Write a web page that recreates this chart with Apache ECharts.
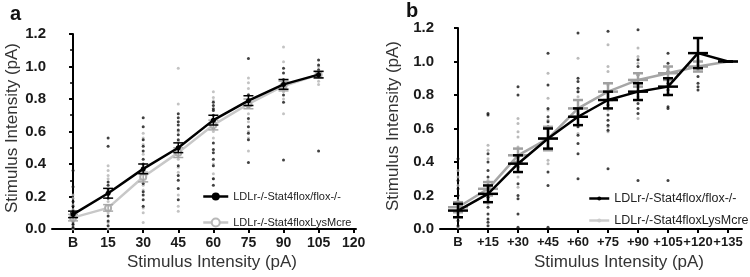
<!DOCTYPE html>
<html>
<head>
<meta charset="utf-8">
<script src="https://cdn.jsdelivr.net/npm/echarts@6/dist/echarts.min.js"></script>
<style>
  html, body { margin: 0; padding: 0; background: #fff; }
  #chart { width: 750px; height: 277px; }
</style>
</head>
<body>
<div id="chart"></div>
<script>
// tick positions / labels (B = baseline)
const ticksA = [0, 15, 30, 45, 60, 75, 90, 105, 120];
const ticksB = [0, 15, 30, 45, 60, 75, 90, 105, 120, 135];
const catsA = [0, 15, 30, 45, 60, 75, 90, 105];
const catsB = [0, 15, 30, 45, 60, 75, 90, 105, 120, 135];
const nameKO = 'LDLr-/-Stat4flox/flox-/-';
const nameCre = 'LDLr-/-Stat4floxLysMcre';

// panel a: means and SEM
const meanA1 = [0.09, 0.22, 0.37, 0.50, 0.67, 0.79, 0.89, 0.95];
const semA1 = [0.02, 0.03, 0.03, 0.03, 0.03, 0.03, 0.03, 0.02];
const meanA2 = [0.07, 0.13, 0.32, 0.47, 0.64, 0.77, 0.88, 0.95];
const semA2 = [0.02, 0.02, 0.03, 0.03, 0.03, 0.03, 0.03, 0.02];

// panel a: individual points per category
const dotsA1 = [
  [0.36, 0.26, 0.17, 0.14, 0.11, 0.08, 0.05, 0.03, 0.01],
  [0.56, 0.51, 0.29, 0.27, 0.24, 0.19, 0.14, 0.08, 0.05, 0.02],
  [0.685, 0.63, 0.55, 0.51, 0.48, 0.43, 0.40, 0.35, 0.28, 0.23, 0.21, 0.18, 0.14],
  [0.71, 0.685, 0.66, 0.64, 0.61, 0.58, 0.55, 0.49, 0.39, 0.33, 0.30, 0.25, 0.18],
  [0.78, 0.76, 0.74, 0.73, 0.70, 0.66, 0.62, 0.53, 0.49, 0.47, 0.43, 0.39, 0.31, 0.27],
  [1.05, 0.825, 0.78, 0.75, 0.68, 0.63, 0.59, 0.55, 0.41],
  [0.99, 0.96, 0.92, 0.86, 0.825, 0.78, 0.425],
  [1.04, 1.01, 0.98, 0.96, 0.48]
];
const dotsA2 = [
  [0.21, 0.19, 0.15, 0.12, 0.10, 0.06, 0.04, 0.02, 0.0],
  [0.39, 0.36, 0.33, 0.31, 0.21, 0.17, 0.12, 0.10, 0.04, 0.0],
  [0.59, 0.56, 0.52, 0.46, 0.39, 0.32, 0.27, 0.24, 0.13, 0.10, 0.04],
  [0.99, 0.77, 0.60, 0.54, 0.46, 0.43, 0.38, 0.35, 0.21, 0.14, 0.11],
  [0.845, 0.81, 0.79, 0.64, 0.60, 0.56, 0.40, 0.34, 0.31],
  [0.93, 0.90, 0.865, 0.83, 0.71, 0.66, 0.60, 0.56, 0.48],
  [1.12, 1.03, 0.89, 0.845, 0.80, 0.71],
  [1.00, 0.97, 0.94, 0.91, 0.89]
];

// panel b: means and SEM
const meanB1 = [0.11, 0.21, 0.39, 0.54, 0.67, 0.77, 0.82, 0.85, 1.05, 1.00];
const semB1 = [0.04, 0.05, 0.05, 0.06, 0.05, 0.05, 0.05, 0.05, 0.09, 0];
const meanB2 = [0.13, 0.24, 0.44, 0.54, 0.72, 0.82, 0.89, 0.93, 0.97, 1.00];
const semB2 = [0.03, 0.04, 0.04, 0.07, 0.05, 0.05, 0.04, 0.04, 0.03, 0];

const dotsB1 = [
  [0.42, 0.29, 0.24, 0.20, 0.155, 0.11, 0.05, 0.02],
  [0.69, 0.68, 0.45, 0.40, 0.35, 0.31, 0.19, 0.13, 0.09, 0.06, 0.04, 0.02],
  [0.85, 0.80, 0.43, 0.37, 0.27, 0.20, 0.18, 0.09, 0.01],
  [1.05, 0.86, 0.72, 0.67, 0.64, 0.61, 0.34, 0.26, 0.01],
  [1.17, 0.90, 0.88, 0.84, 0.82, 0.61, 0.56, 0.51, 0.45, 0.30],
  [1.18, 0.77, 0.74, 0.68, 0.65, 0.62, 0.59, 0.36],
  [1.19, 1.01, 0.97, 0.92, 0.75, 0.72, 0.69, 0.29],
  [1.05, 0.99, 0.94, 0.87, 0.83, 0.73, 0.72, 0.29],
  [0.91, 0.87, 0.85, 0.83],
  []
];
const dotsB2 = [
  [0.35, 0.31, 0.26, 0.17, 0.07, 0.01],
  [0.50, 0.47, 0.42, 0.29, 0.23, 0.15],
  [0.66, 0.63, 0.58, 0.55, 0.49, 0.31, 0.25],
  [0.93, 0.78, 0.71, 0.65, 0.49, 0.41, 0.39],
  [1.02, 0.82, 0.79, 0.69, 0.57],
  [1.10, 0.97, 0.94, 0.86, 0.71, 0.61, 0.58],
  [1.08, 1.03, 0.99, 0.89, 0.79, 0.66],
  [0.96, 0.90, 0.81, 0.80],
  [1.01, 0.98, 0.95],
  []
];

const FONT = '"Liberation Sans", Arial, sans-serif';
// panel b series get their own names so the second legend can style them separately
const B_PREFIX = 'b:';

function toPoints(cats, groups) {
  const out = [];
  groups.forEach((vals, i) => vals.forEach(v => out.push([cats[i], v])));
  return out;
}
function pairs(cats, vals) { return cats.map((c, i) => [c, vals[i]]); }
function triples(cats, m, s) { return cats.map((c, i) => [c, m[i], s[i]]); }

function errRender(capW, barW, color, lw) {
  return function (params, api) {
    const x = api.value(0), m = api.value(1), s = api.value(2);
    const c = api.coord([x, m]);
    const hi = api.coord([x, m + s]);
    const lo = api.coord([x, m - s]);
    const st = { stroke: color, lineWidth: lw };
    const kids = [
      { type: 'line', shape: { x1: c[0], y1: hi[1], x2: c[0], y2: lo[1] }, style: st },
      { type: 'line', shape: { x1: c[0] - capW, y1: hi[1], x2: c[0] + capW, y2: hi[1] }, style: st },
      { type: 'line', shape: { x1: c[0] - capW, y1: lo[1], x2: c[0] + capW, y2: lo[1] }, style: st }
    ];
    if (barW) {
      kids.push({ type: 'line', shape: { x1: c[0] - barW, y1: c[1], x2: c[0] + barW, y2: c[1] }, style: st });
    }
    return { type: 'group', children: kids };
  };
}

function xAxisOf(idx, ticks, max, size) {
  return {
    type: 'value', gridIndex: idx, min: -9, max: max,
    axisLine: { show: true, onZero: false, lineStyle: { color: '#000', width: 2 } },
    axisTick: { show: true, customValues: ticks, length: 4, lineStyle: { color: '#000', width: 2 } },
    axisLabel: {
      customValues: ticks, margin: 7,
      color: '#1a1a1a', fontFamily: FONT, fontWeight: 'bold', fontSize: size,
      formatter: v => v === 0 ? 'B' : (idx === 1 ? '+' + v : String(v))
    },
    splitLine: { show: false }
  };
}
function yAxisOf(idx, minor) {
  return {
    type: 'value', gridIndex: idx, min: 0, max: 1.2, interval: 0.2,
    axisLine: { show: true, lineStyle: { color: '#000', width: 2 } },
    axisTick: { show: true, length: 4, lineStyle: { color: '#000', width: 2 } },
    minorTick: { show: minor, splitNumber: 2, length: 3, lineStyle: { color: '#000', width: 1.5 } },
    axisLabel: {
      margin: 6, color: '#1a1a1a', fontFamily: FONT, fontWeight: 'bold', fontSize: 15,
      formatter: v => v.toFixed(1)
    },
    splitLine: { show: false }
  };
}

const chart = echarts.init(document.getElementById('chart'), null, { renderer: 'canvas' });

const option = {
  animation: false,
  backgroundColor: '#fff',
  grid: [
    { left: 52, top: 34, width: 304, height: 195 },
    { left: 440, top: 28, width: 302, height: 201 }
  ],
  xAxis: [xAxisOf(0, ticksA, 121, 14), xAxisOf(1, ticksB, 142, 13)],
  yAxis: [yAxisOf(0, true), yAxisOf(1, false)],
  legend: [
    {
      left: 197, top: 186, orient: 'vertical', itemWidth: 25, itemHeight: 10, itemGap: 15,
      textStyle: { fontFamily: FONT, fontSize: 11, color: '#222' },
      data: [
        { name: nameKO, itemStyle: { color: '#000' }, lineStyle: { color: '#000', width: 2.5 } },
        { name: nameCre, itemStyle: { color: '#b8b8b8' }, lineStyle: { color: '#c4c4c4', width: 2.5 } }
      ]
    },
    {
      left: 583, top: 187, orient: 'vertical', itemWidth: 20, itemHeight: 5, itemGap: 9,
      textStyle: { fontFamily: FONT, fontSize: 12.5, color: '#222' },
      formatter: name => name.slice(B_PREFIX.length),
      data: [
        { name: B_PREFIX + nameKO, itemStyle: { color: '#000' }, lineStyle: { color: '#000', width: 2.5 } },
        { name: B_PREFIX + nameCre, itemStyle: { color: '#ccc' }, lineStyle: { color: '#ccc', width: 2.5 } }
      ]
    }
  ],
  graphic: [
    { type: 'text', left: 10, top: 4, style: { text: 'a', font: 'bold 20px ' + FONT, fill: '#111' } },
    { type: 'text', left: 406, top: 1, style: { text: 'b', font: 'bold 20px ' + FONT, fill: '#111' } },
    { type: 'text', x: 212, y: 262, style: { text: 'Stimulus Intensity (pA)', font: '17px ' + FONT, fill: '#333', align: 'center', verticalAlign: 'middle' } },
    { type: 'text', x: 619, y: 262, style: { text: 'Stimulus Intensity (pA)', font: '17px ' + FONT, fill: '#333', align: 'center', verticalAlign: 'middle' } },
    { type: 'text', x: 12, y: 128, rotation: Math.PI / 2, style: { text: 'Stimulus Intensity (pA)', font: '17px ' + FONT, fill: '#333', align: 'center', verticalAlign: 'middle' } },
    { type: 'text', x: 393, y: 126, rotation: Math.PI / 2, style: { text: 'Stimulus Intensity (pA)', font: '17px ' + FONT, fill: '#333', align: 'center', verticalAlign: 'middle' } }
  ],
  series: [
    // panel a
    { type: 'scatter', xAxisIndex: 0, yAxisIndex: 0, symbolSize: 3, itemStyle: { color: '#b4b4b4' }, data: toPoints(catsA, dotsA2), z: 1 },
    { type: 'scatter', xAxisIndex: 0, yAxisIndex: 0, symbolSize: 3, itemStyle: { color: '#111' }, data: toPoints(catsA, dotsA1), z: 1 },
    { name: nameCre, type: 'line', xAxisIndex: 0, yAxisIndex: 0, symbol: 'emptyCircle', symbolSize: 6,
      lineStyle: { color: '#c8c8c8', width: 2.5 }, itemStyle: { color: '#b0b0b0', borderWidth: 1.5 }, data: pairs(catsA, meanA2), z: 3 },
    { type: 'custom', xAxisIndex: 0, yAxisIndex: 0, renderItem: errRender(5, 0, '#a8a8a8', 1.5), encode: { x: 0, y: 1 }, data: triples(catsA, meanA2, semA2), z: 4 },
    { name: nameKO, type: 'line', xAxisIndex: 0, yAxisIndex: 0, symbol: 'circle', symbolSize: 5,
      lineStyle: { color: '#000', width: 2.5 }, itemStyle: { color: '#000' }, data: pairs(catsA, meanA1), z: 5 },
    { type: 'custom', xAxisIndex: 0, yAxisIndex: 0, renderItem: errRender(5, 0, '#000', 1.5), encode: { x: 0, y: 1 }, data: triples(catsA, meanA1, semA1), z: 6 },

    // panel b
    { type: 'scatter', xAxisIndex: 1, yAxisIndex: 1, symbolSize: 3, itemStyle: { color: '#aaa' }, data: toPoints(catsB, dotsB2), z: 1 },
    { type: 'scatter', xAxisIndex: 1, yAxisIndex: 1, symbolSize: 3, itemStyle: { color: '#111' }, data: toPoints(catsB, dotsB1), z: 1 },
    { name: B_PREFIX + nameCre, type: 'line', xAxisIndex: 1, yAxisIndex: 1, symbol: 'circle', showSymbol: false,
      lineStyle: { color: '#a6a6a6', width: 2.5 }, itemStyle: { color: '#ccc' }, data: pairs(catsB, meanB2), z: 3 },
    { type: 'custom', xAxisIndex: 1, yAxisIndex: 1, renderItem: errRender(5, 10, '#a0a0a0', 2.5), encode: { x: 0, y: 1 }, data: triples(catsB, meanB2, semB2), z: 4 },
    { name: B_PREFIX + nameKO, type: 'line', xAxisIndex: 1, yAxisIndex: 1, symbol: 'circle', showSymbol: false,
      lineStyle: { color: '#000', width: 2.5 }, itemStyle: { color: '#000' }, data: pairs(catsB, meanB1), z: 5 },
    { type: 'custom', xAxisIndex: 1, yAxisIndex: 1, renderItem: errRender(5, 10, '#000', 2.5), encode: { x: 0, y: 1 }, data: triples(catsB, meanB1, semB1), z: 6 }
  ]
};

chart.setOption(option);
</script>
</body>
</html>
